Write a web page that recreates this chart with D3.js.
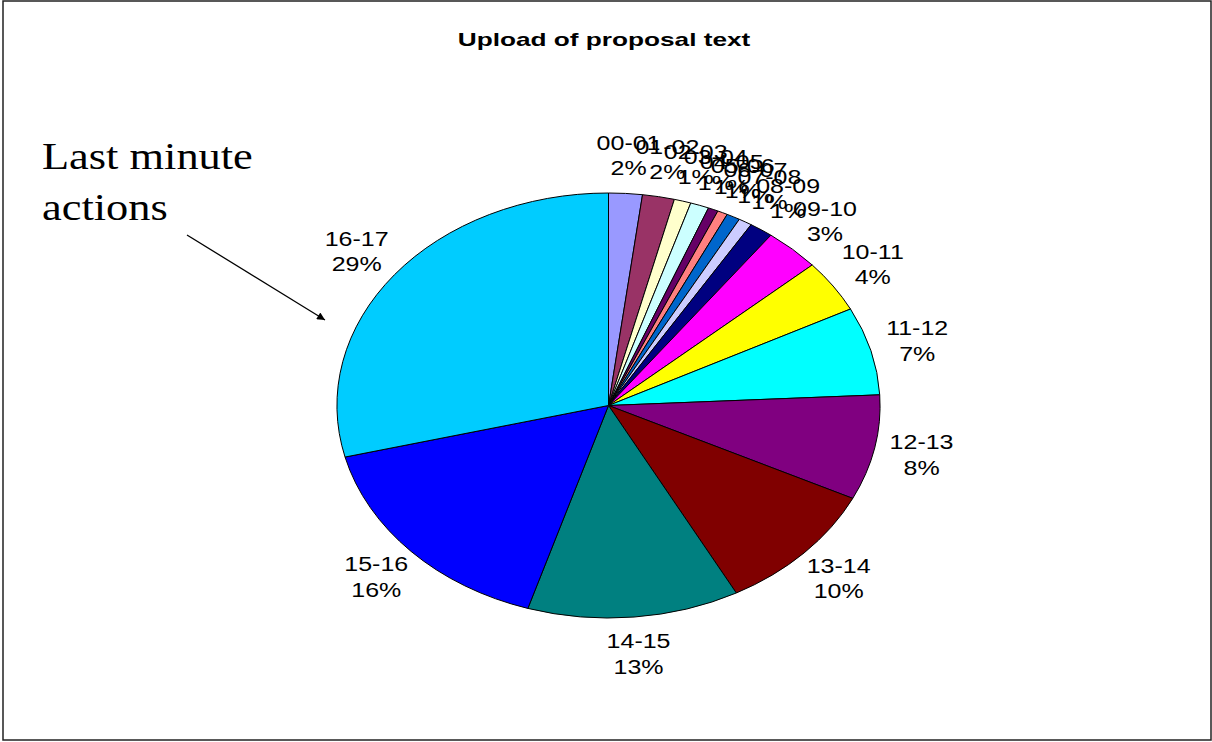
<!DOCTYPE html>
<html lang="en">
<head>
    <meta charset="UTF-8">
    <title>Upload of proposal text</title>
    <script src="https://d3js.org/d3.v7.min.js"></script>
    <style>
        body {
            margin: 0;
            background: white;
        }
        .slice-label {
            font-family: "Liberation Sans", Arial, sans-serif;
            font-size: 20px;
            fill: black;
        }
        .title {
            font-family: "Liberation Sans", Arial, sans-serif;
            font-size: 19px;
            font-weight: bold;
        }
        .note {
            font-family: "Liberation Serif", "Times New Roman", serif;
            font-size: 37px;
        }
    </style>
</head>
<body>
<div id="chart"></div>
<script>
    // hour slots and their share of uploads (%)
    const hours = ["00-01", "01-02", "02-03", "03-04", "04-05", "05-06", "06-07", "07-08", "08-09",
        "09-10", "10-11", "11-12", "12-13", "13-14", "14-15", "15-16", "16-17"];
    const shares = [2.0, 1.9, 1.0, 1.1, 0.6, 0.6, 0.8, 0.8, 1.4, 3.3, 4.0, 6.7, 8.0, 10.0, 12.6, 16.3, 28.9];
    const colors = ["#9999FF", "#993366", "#FFFFCC", "#CCFFFF", "#660066", "#FF8080", "#0066CC", "#CCCCFF", "#000080",
        "#FF00FF", "#FFFF00", "#00FFFF", "#800080", "#800000", "#008080", "#0000FF", "#00CCFF"];

    const W = 1212, H = 742;
    const svg = d3.select("#chart").append("svg")
        .attr("width", W)
        .attr("height", H);

    // frame
    svg.append("rect")
        .attr("x", 3).attr("y", 1)
        .attr("width", 1208).attr("height", 739)
        .attr("fill", "white")
        .attr("stroke", "#222")
        .attr("stroke-width", 1.5);

    svg.append("text")
        .attr("class", "title")
        .attr("text-anchor", "middle")
        .attr("transform", "translate(604,46) scale(1.38,1)")
        .text("Upload of proposal text");

    const data = hours.map((h, i) => ({ hour: h, value: shares[i], color: colors[i] }));
    const total = d3.sum(shares);

    // the pie is a circle stretched sideways, like the original sheet
    const r = 212.5, sx = 1.278;
    const g = svg.append("g")
        .attr("transform", `translate(608.5,405.5) scale(${sx},1)`);

    const pie = d3.pie().sort(null).value(d => d.value);
    const arc = d3.arc().innerRadius(0).outerRadius(r);
    const labelArc = d3.arc().innerRadius(250).outerRadius(250);

    g.selectAll("path")
        .data(pie(data))
        .enter()
        .append("path")
        .attr("d", arc)
        .attr("fill", d => d.data.color)
        .attr("stroke", "black")
        .attr("stroke-width", 1)
        .attr("vector-effect", "non-scaling-stroke");

    const labels = g.selectAll("text")
        .data(pie(data))
        .enter()
        .append("text")
        .attr("class", "slice-label")
        .attr("text-anchor", "middle")
        .attr("transform", d => {
            const [x, y] = labelArc.centroid(d);
            return `translate(${x},${y}) scale(${1.25 / sx},1)`;
        });
    labels.append("tspan")
        .attr("x", 0).attr("y", -6)
        .text(d => d.data.hour);
    labels.append("tspan")
        .attr("x", 0).attr("y", 19.5)
        .text(d => Math.round(d.data.value / total * 100) + "%");

    // annotation with arrow
    svg.append("defs").append("marker")
        .attr("id", "head")
        .attr("viewBox", "0 0 10 10")
        .attr("refX", 10).attr("refY", 5)
        .attr("markerWidth", 10).attr("markerHeight", 8)
        .attr("markerUnits", "userSpaceOnUse")
        .attr("orient", "auto")
        .append("path")
        .attr("d", "M0,0 L10,5 L0,10 Z")
        .attr("fill", "black");

    const note = svg.append("text")
        .attr("class", "note")
        .attr("transform", "translate(42,169) scale(1.2,1)");
    note.append("tspan").attr("x", 0).attr("y", 0).text("Last minute");
    note.append("tspan").attr("x", 0).attr("y", 51).text("actions");

    svg.append("line")
        .attr("x1", 187).attr("y1", 235)
        .attr("x2", 325).attr("y2", 320)
        .attr("stroke", "black")
        .attr("stroke-width", 1.3)
        .attr("marker-end", "url(#head)");
</script>
</body>
</html>
